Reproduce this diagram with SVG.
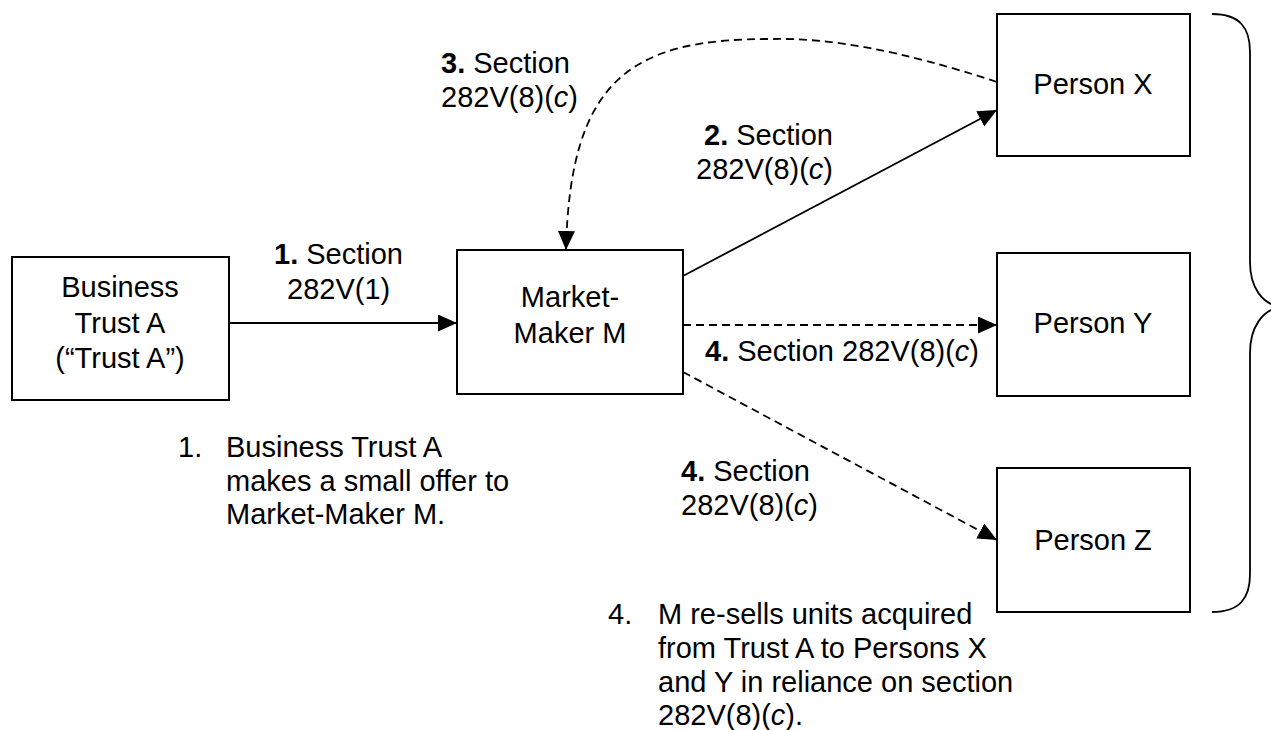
<svg xmlns="http://www.w3.org/2000/svg" width="1271" height="730" viewBox="0 0 1271 730">
<defs>
<marker id="ah" markerUnits="userSpaceOnUse" markerWidth="20" markerHeight="18" refX="19" refY="8.5" orient="auto">
<path d="M0,0 L19,8.5 L0,17 Z" fill="#000"/>
</marker>
<style>
text{font-family:"Liberation Sans",Arial,sans-serif;font-size:29px;fill:#000}
.c{text-anchor:middle}
.b{font-weight:bold}
.i{font-style:italic}
.box{fill:#fff;stroke:#000;stroke-width:2}
.ln{fill:none;stroke:#000;stroke-width:1.8}
.d{stroke-dasharray:8 5}
</style>
</defs>
<rect width="1271" height="730" fill="#fff"/>
<g id="connectors">
<path class="ln" d="M229,323 L457,323" marker-end="url(#ah)"/>
<path class="ln" d="M683,276 L997,110" marker-end="url(#ah)"/>
<path class="ln d" d="M683,325 L997,325" marker-end="url(#ah)"/>
<path class="ln d" d="M683,372 L997,540" marker-end="url(#ah)"/>
<path class="ln d" d="M997,82 C900,50 830,38 773,39 C630,38 570,80 566,250" marker-end="url(#ah)"/>
<path class="ln" d="M1212,14 C1240,14 1250,28 1250,52 L1250,262 C1250,287 1262,305 1282,307 C1262,309 1250,328 1250,353 L1250,574 C1250,598 1240,612 1212,612"/>
</g>
<g id="labels">
<text x="274" y="264"><tspan class="b">1.</tspan> Section</text>
<text x="287" y="299">282V(1)</text>
<text x="441" y="73"><tspan class="b">3.</tspan> Section</text>
<text x="441" y="107">282V(8)(<tspan class="i">c</tspan>)</text>
<text x="833" y="145" text-anchor="end"><tspan class="b">2.</tspan> Section</text>
<text x="833" y="179" text-anchor="end">282V(8)(<tspan class="i">c</tspan>)</text>
<text x="705" y="361"><tspan class="b">4.</tspan> Section 282V(8)(<tspan class="i">c</tspan>)</text>
<text x="681" y="481"><tspan class="b">4.</tspan> Section</text>
<text x="681" y="515">282V(8)(<tspan class="i">c</tspan>)</text>
</g>
<g id="trustA">
<rect class="box" x="12" y="257" width="217" height="143"/>
<text class="c" x="120" y="297">Business</text>
<text class="c" x="120" y="333">Trust A</text>
<text class="c" x="120" y="368">(“Trust A”)</text>
</g>
<g id="marketMaker">
<rect class="box" x="457" y="250" width="226" height="144"/>
<text class="c" x="570" y="307">Market-</text>
<text class="c" x="570" y="343">Maker M</text>
</g>
<g id="personX">
<rect class="box" x="997" y="14" width="193" height="142"/>
<text class="c" x="1093" y="94">Person X</text>
</g>
<g id="personY">
<rect class="box" x="997" y="253" width="193" height="143"/>
<text class="c" x="1093" y="333">Person Y</text>
</g>
<g id="personZ">
<rect class="box" x="997" y="468" width="193" height="144"/>
<text class="c" x="1093" y="550">Person Z</text>
</g>
<g id="note1">
<text x="178" y="457">1.</text>
<text x="226" y="457">Business Trust A</text>
<text x="226" y="491">makes a small offer to</text>
<text x="226" y="524">Market-Maker M.</text>
</g>
<g id="note4">
<text x="608" y="624">4.</text>
<text x="658" y="624">M re-sells units acquired</text>
<text x="658" y="658">from Trust A to Persons X</text>
<text x="658" y="692">and Y in reliance on section</text>
<text x="658" y="725">282V(8)(<tspan class="i">c</tspan>).</text>
</g>
</svg>
